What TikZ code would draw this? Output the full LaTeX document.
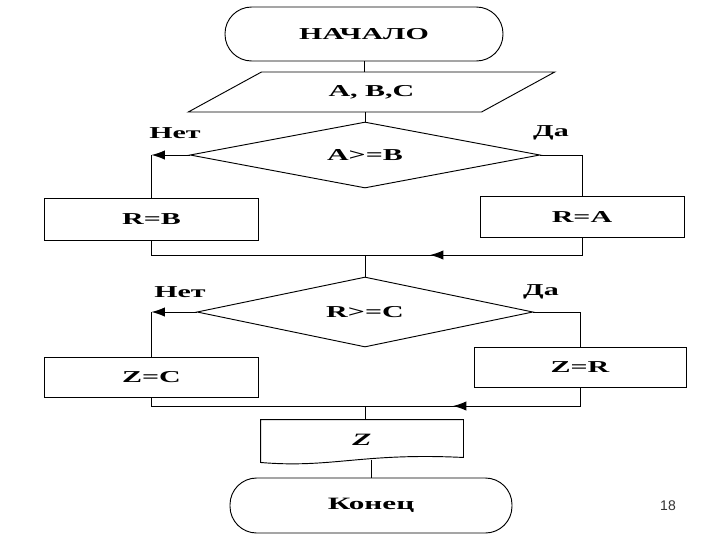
\documentclass[tikz,border=0pt]{standalone}
\usepackage{fontspec}
\setmainfont{Liberation Serif}[FakeStretch=1.8]
\newfontfamily\pagefont{Liberation Sans}
\usetikzlibrary{positioning, shapes.geometric, calc, arrows.meta}

\begin{document}
\begin{tikzpicture}[x=0.75pt, y=-0.75pt, line width=0.7pt,
    every node/.style={font=\bfseries\fontsize{12.5}{14}\selectfont},
    term/.style={rectangle, draw, rounded corners=20pt, inner sep=0pt},
    iobox/.style={trapezium, draw, trapezium left angle=25.5, trapezium right angle=154.5,
                  trapezium stretches=true, minimum width=275pt, minimum height=30pt, inner sep=0pt},
    cond/.style={diamond, draw, aspect=5, inner sep=0pt},
    procbox/.style={rectangle, draw, inner sep=0pt},
    arr/.style={-{Latex[length=10pt, width=7pt]}}]
\useasboundingbox (0,0) rectangle (720,540);

\node[term, minimum width=208.5pt, minimum height=40.5pt] (start) at (364,34) {НАЧАЛО};
\node[iobox] (data) at (371.5,92) {A, B,C};
\node[cond, minimum width=262.5pt, minimum height=49.5pt] (ab) at (365,155) {A>=B};
\node (no1) at (175,133) {Нет};
\node (yes1) at (551,133) {Да};
\node[procbox, minimum width=160pt, minimum height=31.5pt] (rb) at (151.5,219) {R=B};
\node[procbox, minimum width=153pt, minimum height=30.75pt] (ra) at (582,216.5) {R=A};
\coordinate (join1) at (365,255);
\coordinate (tip1) at (430,255);
\node[cond, minimum width=252pt, minimum height=52.5pt] (rc) at (365,312) {R>=C};
\node (no2) at (180,292) {Нет};
\node (yes2) at (541,292) {Да};
\node[procbox, minimum width=160pt, minimum height=30pt] (zc) at (151.5,377) {Z=C};
\node[procbox, minimum width=159pt, minimum height=30pt] (zr) at (580,367) {Z=R};
\coordinate (join2) at (365,406);
\coordinate (tip2) at (453,406);
\node[minimum width=151.5pt, minimum height=30pt, inner sep=0pt,
      font=\bfseries\itshape\fontsize{13}{15}\selectfont] (out) at (362,440) {Z};
\node[term, minimum width=211.5pt, minimum height=41.25pt,
      font=\bfseries\fontsize{13}{15}\selectfont] (fin) at (371,505.5) {Конец};
\node[font=\pagefont\fontsize{10.5}{12}\selectfont, text=black!80] (page) at (668,506) {18};

\draw (out.north west) -- (out.north east) -- ($(out.south east)+(0,-3)$)
  .. controls ($(out.south)+(0,-8)$) and ($(out.south)+(-30,8)$) .. ($(out.south west)+(0,2)$)
  -- cycle;

\draw (start.south) -- (start.south |- data.north);
\draw (ab.north) -- (ab.north |- data.south);
\draw[arr] (ab.west) -- (ab.west -| rb.north);
\draw (ab.west -| rb.north) -- (rb.north);
\draw (ab.east) -- (ab.east -| ra.north) -- (ra.north);
\draw (rb.south) -- (rb.south |- join1) -- (ra.south |- join1) -- (ra.south);
\draw[arr] (ra.south |- join1) -- (tip1);
\draw (join1) -- (rc.north);
\draw[arr] (rc.west) -- (rc.west -| zc.north);
\draw (rc.west -| zc.north) -- (zc.north);
\draw (rc.east) -- (rc.east -| zr.north) -- (zr.north);
\draw (zc.south) -- (zc.south |- join2) -- (zr.south |- join2) -- (zr.south);
\draw[arr] (zr.south |- join2) -- (tip2);
\draw (join2) -- (join2 |- out.north);
\draw (fin.north) -- (fin.north |- out.south);
\end{tikzpicture}
\end{document}
